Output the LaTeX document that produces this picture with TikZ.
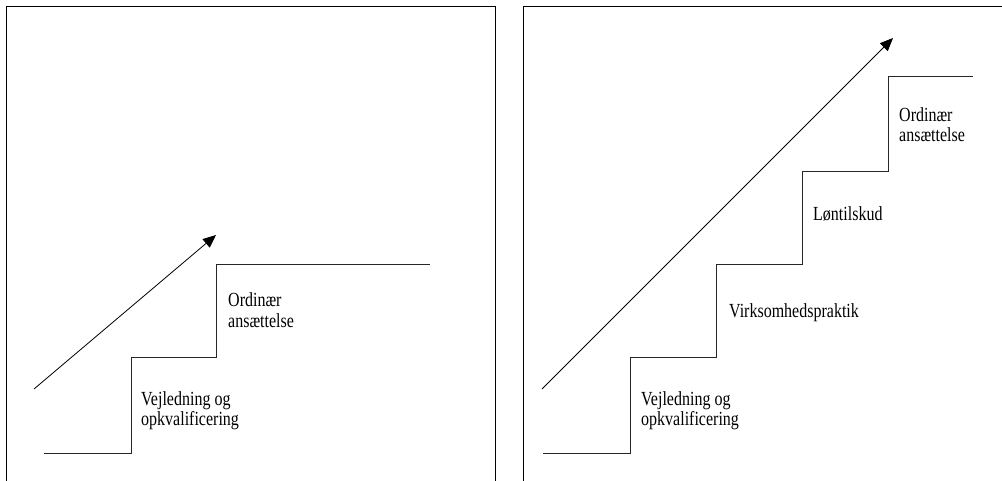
\documentclass[tikz,border=0pt]{standalone}
\usepackage{fontspec}
\setmainfont{Liberation Serif}
\usepackage{tikz}
\usetikzlibrary{arrows.meta}

\tikzstyle{Panel}=[draw=black, line width=0.7pt]
\tikzstyle{Stair}=[draw=black!85, line width=1pt]
\tikzstyle{Rise}=[draw=black, line width=0.8pt, -{Triangle[length=13pt,width=11pt]}]
\tikzstyle{StepText}=[font=\fontsize{16}{16}\selectfont, align=left, anchor=base west,
  inner sep=0pt, yscale=1.25, transform shape]

\begin{document}
\begin{tikzpicture}[x=1pt, y=1pt]
\useasboundingbox (0,0) rectangle (1002,480);

% panels
\draw[Panel] (6,-20) -- (6,474) -- (495,474) -- (495,-20);
\draw[Panel] (523,-20) -- (523,474) -- (1020,474);

% left: two steps
\coordinate (L0) at (44,27);
\coordinate (L1) at (131,123);
\coordinate (L2) at (216,215);
\coordinate (L3) at (430,215);
\draw[Stair] (L0) -| (L1) -| (L2) -- (L3);

\coordinate (la) at (34,91);
\coordinate (lb) at (216,245);
\draw[Rise] (la) -- (lb);

\node[StepText] (lv) at (141,55) {Vejledning og\\opkvalificering};
\node[StepText] (lo) at (228,153) {Ordinær\\ansættelse};

% right: four steps
\coordinate (R0) at (543,27);
\coordinate (R1) at (630,123);
\coordinate (R2) at (716,215);
\coordinate (R3) at (802,308);
\coordinate (R4) at (888,403);
\coordinate (R5) at (973,403);
\draw[Stair] (R0) -| (R1) -| (R2) -| (R3) -| (R4) -- (R5);

\coordinate (ra) at (542,91);
\coordinate (rb) at (893,442);
\draw[Rise] (ra) -- (rb);

\node[StepText] (rv) at (641,55) {Vejledning og\\opkvalificering};
\node[StepText] (rp) at (729,162) {Virksomhedspraktik};
\node[StepText] (rl) at (813,259) {Løntilskud};
\node[StepText] (ro) at (899,338) {Ordinær\\ansættelse};

\end{tikzpicture}
\end{document}
